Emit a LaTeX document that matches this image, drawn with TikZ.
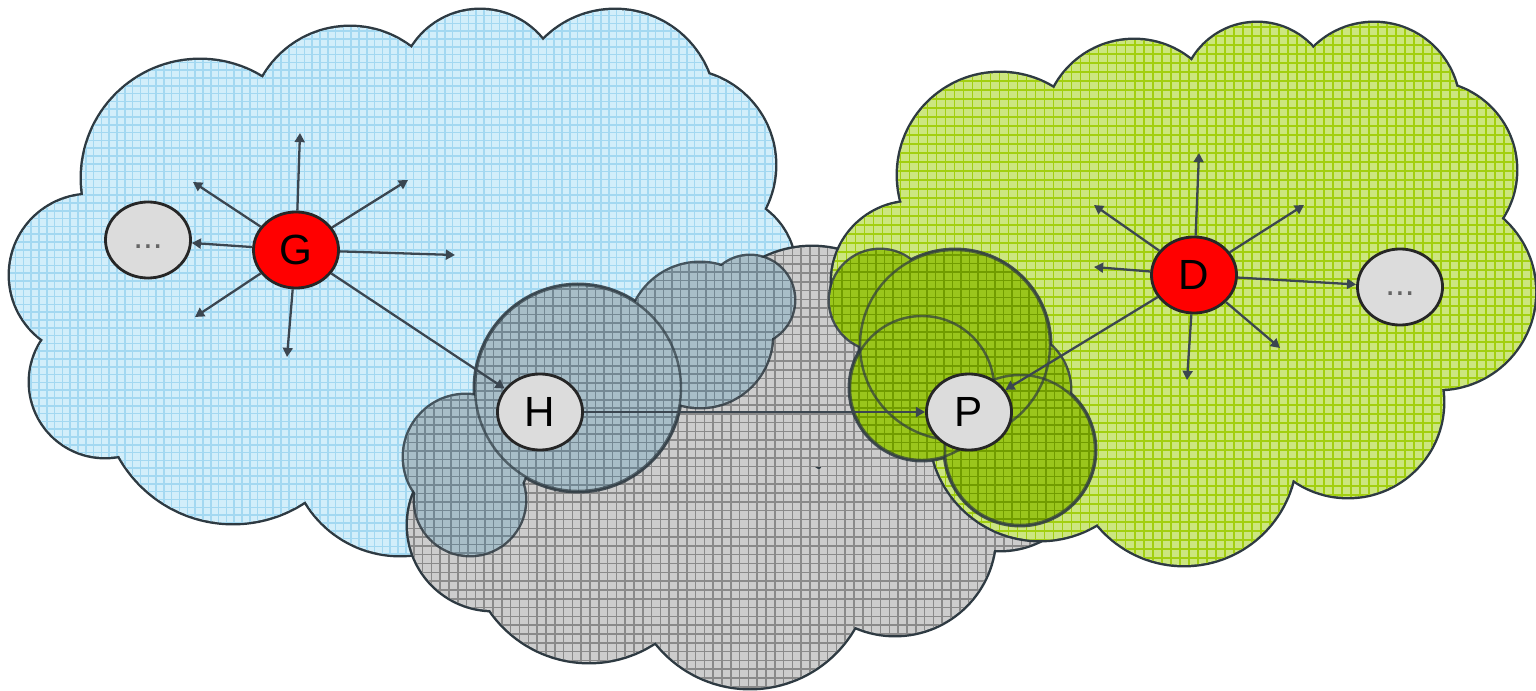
\documentclass[tikz,border=0pt]{standalone}
\usepackage{fontspec}
\setmainfont{Liberation Sans}
\usetikzlibrary{arrows.meta,shapes.geometric}
\definecolor{cloudRim}{HTML}{2E3A42}
\definecolor{skyBg}{HTML}{D2EEFA}
\definecolor{skyGrid}{HTML}{A3D8F1}
\definecolor{ashBg}{HTML}{CDCDCD}
\definecolor{ashGrid}{HTML}{8A8A8A}
\definecolor{leafBg}{HTML}{CCE680}
\definecolor{leafGrid}{HTML}{A2CF10}
\definecolor{hazeH}{HTML}{A8BEC8}
\definecolor{hazeHGrid}{HTML}{748893}
\definecolor{hazeP}{HTML}{9AC61C}
\definecolor{hazePGrid}{HTML}{719C00}
\definecolor{hubRed}{HTML}{FF0000}
\definecolor{peerGrey}{HTML}{DCDCDC}
\definecolor{rayGrey}{HTML}{3B4650}
\tikzset{
  rim/.style={draw=cloudRim, line width=1.4pt},
  lobe/.style={draw=cloudRim, line width=0.7pt, draw opacity=0.7},
  mesh/.style={draw=#1, line width=0.45pt},
  hub/.style={
    ellipse, draw=black!85, line width=0.8pt, fill=hubRed,
    minimum width=0.85cm, minimum height=0.76cm, inner sep=0pt,
    font=\fontsize{12}{14}\selectfont},
  peer/.style={hub, fill=peerGrey},
  more/.style={peer, font=\fontsize{10}{12}\selectfont, text=black!60},
  ray/.style={draw=rayGrey, line width=0.65pt, -{Triangle[length=2.6pt,width=2.8pt]}},
}

\begin{document}
\begin{tikzpicture}[x=0.01cm, y=-0.01cm]
\useasboundingbox (0,0) rectangle (1536,691);

% lobes of each cloud, as x/y/radius
\def\skyLobes{200/178/118, 90/275/80, 105/382/75, 350/127/100, 480/90/80,
  615/110/100, 680/165/95, 720/270/75, 233/393/130, 400/445/110,
  420/280/190, 560/260/170}
\def\ashLobes{493/525/85, 589/542/120, 750/568/120, 895/535/100,
  1000/460/90, 812/357/110, 660/450/130, 930/420/110}
\def\leafLobes{1000/175/102, 912/282/80, 1134/130/90, 1257/98/75,
  1374/108/85, 1428/170/88, 1438/292/97, 1348/402/95, 1184/453/112,
  1040/430/110, 1200/270/190, 1080/330/150}
\def\hLobes{466/457/62, 470/500/55, 700/335/72, 750/300/44, 578/388/103}
\def\pLobes{880/300/50, 922/388/72, 1020/450/75, 1010/390/60, 955/345/95}

% blue cloud
\foreach \x/\y/\r in \skyLobes {\draw[rim] (\x,\y) circle[radius=\r];}
\begin{scope}
  \clip \foreach \x/\y/\r in \skyLobes {(\x,\y) circle[radius=\r]};
  \fill[skyBg] (0,0) rectangle (1536,691);
  \draw[mesh=skyGrid, step=0.078cm] (0,691) grid (1536,0);
\end{scope}

% grey cloud
\foreach \x/\y/\r in \ashLobes {\draw[rim] (\x,\y) circle[radius=\r];}
\begin{scope}
  \clip \foreach \x/\y/\r in \ashLobes {(\x,\y) circle[radius=\r]};
  \fill[ashBg] (0,0) rectangle (1536,691);
  \draw[mesh=ashGrid, step=0.088cm] (0,691) grid (1536,0);
\end{scope}

% green cloud
\foreach \x/\y/\r in \leafLobes {\draw[rim] (\x,\y) circle[radius=\r];}
\begin{scope}
  \clip \foreach \x/\y/\r in \leafLobes {(\x,\y) circle[radius=\r]};
  \fill[leafBg] (0,0) rectangle (1536,691);
  \draw[mesh=leafGrid, line width=0.5pt, step=0.09cm] (0,691) grid (1536,0);
\end{scope}

% small cloud round H
\foreach \x/\y/\r in \hLobes {\draw[rim, draw opacity=0.85] (\x,\y) circle[radius=\r];}
\begin{scope}
  \clip \foreach \x/\y/\r in \hLobes {(\x,\y) circle[radius=\r]};
  \fill[hazeH] (0,0) rectangle (1536,691);
  \draw[mesh=hazeHGrid, step=0.085cm] (0,691) grid (1536,0);
\end{scope}
\draw[lobe] (578,388) circle[radius=103];

% small cloud round P
\foreach \x/\y/\r in \pLobes {\draw[rim, draw opacity=0.85] (\x,\y) circle[radius=\r];}
\begin{scope}
  \clip \foreach \x/\y/\r in \pLobes {(\x,\y) circle[radius=\r]};
  \fill[hazeP] (0,0) rectangle (1536,691);
  \draw[mesh=hazePGrid, step=0.085cm] (0,691) grid (1536,0);
\end{scope}
\draw[lobe] (955,345) circle[radius=95];
\draw[lobe] (922,388) circle[radius=72];
\draw[lobe] (1020,450) circle[radius=75];

\node[hub] (G) at (296,250) {G};
\node[more] (moreG) at (148,240) {\strut...};
\node[hub] (D) at (1194,275) {D};
\node[more] (moreD) at (1400,287) {\strut...};
\node[peer] (H) at (540,412) {H};
\node[peer] (P) at (969,412) {P};

\foreach \x/\y [count=\i] in {300/133, 193/182, 408/180, 455/255, 195/317, 287/357} {
  \coordinate (g\i) at (\x,\y);
  \draw[ray] (G) -- (g\i);
}
\foreach \x/\y [count=\i] in {1199/153, 1094/205, 1304/205, 1094/267, 1280/348, 1187/380} {
  \coordinate (d\i) at (\x,\y);
  \draw[ray] (D) -- (d\i);
}
\draw[ray] (G) -- (moreG);
\draw[ray] (G) -- (H);
\draw[ray] (D) -- (moreD);
\draw[ray] (D) -- (P);
\draw[ray] (H) -- (P);

\end{tikzpicture}
\end{document}
